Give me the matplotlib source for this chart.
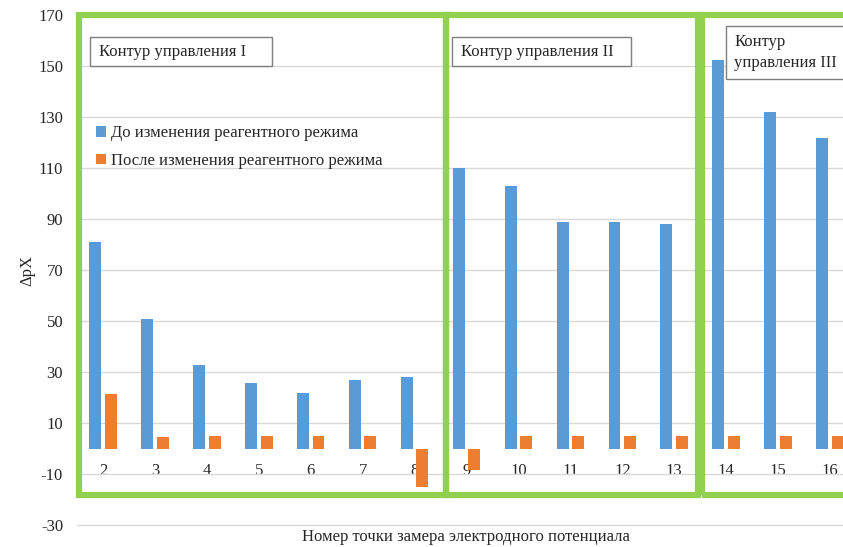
import matplotlib.pyplot as plt
from matplotlib.patches import Rectangle
import numpy as np

plt.rcParams['font.family'] = ['Liberation Serif', 'DejaVu Serif']
plt.rcParams['axes.unicode_minus'] = False

# точки замера и значения dpX до/после изменения реагентного режима
points = [2, 3, 4, 5, 6, 7, 8, 9, 10, 11, 12, 13, 14, 15, 16]
before = [81, 51, 33, 26, 22, 27, 28, 110, 103, 89, 89, 88, 152.5, 132, 122]
after = [21.5, 4.5, 5, 5, 5, 5, -15, -8.5, 5, 5, 5, 5, 5, 5, 5]
yticks = [-30, -10, 10, 30, 50, 70, 90, 110, 130, 150, 170]

blue = '#5B9BD5'
orange = '#ED7D31'
green = '#92D050'

fig = plt.figure(figsize=(8.43, 5.47), dpi=100)
ax = fig.add_axes([77/843, 21.7/547, 779/843, 510/547])

x = np.array(points)
w = 0.23
ax.bar(x - 0.15, before, width=w, color=blue, label='До изменения реагентного режима', zorder=3)
ax.bar(x + 0.15, after, width=w, color=orange, label='После изменения реагентного режима', zorder=3)

ax.set_xlim(1.5, 16.5)
ax.set_ylim(-30, 170)
ax.set_yticks(yticks)
ax.set_xticks(points)
ax.grid(axis='y', color='#D9D9D9', linewidth=1, zorder=0)
ax.set_axisbelow(True)
for gl in ax.get_ygridlines():
    gl.set_clip_on(False)

# подписи категорий у нулевой линии
ax.spines['bottom'].set_position(('data', 0))
for s in ['left', 'right', 'top', 'bottom']:
    ax.spines[s].set_visible(False)
ax.tick_params(axis='both', length=0, labelsize=12, colors='#262626')
ax.tick_params(axis='x', pad=10)
ax.tick_params(axis='y', pad=10)

fig.text(27/843, 1 - 270/547, 'ΔpX', rotation=90, ha='center', va='center', fontsize=12, color='#262626')
fig.text(466/843, 1 - 537/547, 'Номер точки замера электродного потенциала',
         ha='center', va='center', fontsize=12, color='#262626')

# зелёные рамки контуров управления
for x0, x1 in [(1.54, 8.61), (8.61, 13.45), (13.53, 17.5)]:
    ax.add_patch(Rectangle((x0, -18), x1 - x0, 188, fill=False, edgecolor=green,
                           linewidth=4.5, clip_on=False, zorder=4))

# подписи контуров
boxes = [(1.75, 5.26, 150.1, 161.5, 'Контур управления I'),
         (8.73, 12.16, 150.1, 161.5, 'Контур управления II'),
         (13.99, 17.0, 145.0, 165.8, 'Контур\nуправления III')]
for x0, x1, y0, y1, txt in boxes:
    ax.add_patch(Rectangle((x0, y0), x1 - x0, y1 - y0, facecolor='white', edgecolor='#7F7F7F',
                           linewidth=1, clip_on=False, zorder=5))
    ax.text(x0 + 0.17, (y0 + y1) / 2, txt, ha='left', va='center', fontsize=12,
            color='#262626', zorder=6, linespacing=1.4)

ax.legend(loc='upper left', bbox_to_anchor=(88/843, 1 - 117/547), bbox_transform=fig.transFigure,
          frameon=False, fontsize=12, handlelength=0.6, handleheight=0.6, handletextpad=0.3,
          labelspacing=0.7, borderpad=0, labelcolor='#262626')

plt.savefig('out.png')
